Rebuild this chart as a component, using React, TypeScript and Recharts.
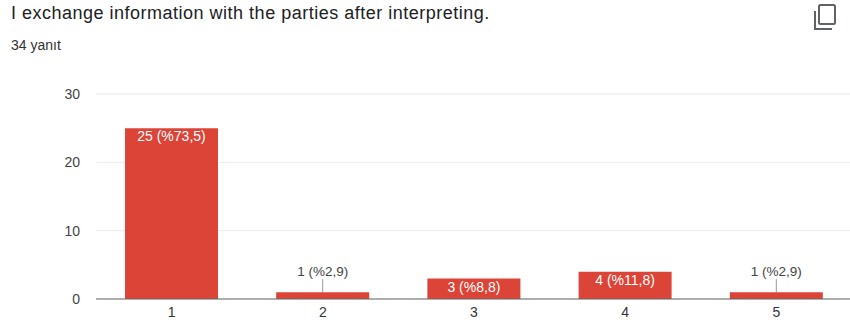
import { BarChart, Bar, XAxis, YAxis, CartesianGrid, LabelList } from 'recharts';

const categories = ['1', '2', '3', '4', '5'];
const counts = [25, 1, 3, 4, 1];
const percents = ['%73,5', '%2,9', '%8,8', '%11,8', '%2,9'];
const yTicks = [0, 10, 20, 30];

const data = categories.map((name, i) => ({ name, value: counts[i], pct: percents[i] }));

const FONT = '"Liberation Sans", Arial, Helvetica, sans-serif';

const renderLabel = (props: any) => {
  const { x, y, width, height, index } = props;
  const text = `${counts[index]} (${percents[index]})`;
  const cx = x + width / 2;
  if (height > 18) {
    return (
      <text x={cx} y={y + 13} textAnchor="middle" fill="#fff" fontSize={14} fontWeight={500} fontFamily={FONT}>
        {text}
      </text>
    );
  }
  return (
    <g>
      <line x1={cx} x2={cx} y1={y - 13} y2={y} stroke="#999" strokeWidth={1} />
      <text x={cx} y={y - 16} textAnchor="middle" fill="#444" fontSize={13.5} fontFamily={FONT}>
        {text}
      </text>
    </g>
  );
};

export default function App() {
  return (
    <div style={{ position: 'absolute', left: 0, top: 0, width: 850, height: 327, overflow: 'hidden', background: '#fff', fontFamily: FONT }}>
      <div style={{ position: 'absolute', left: 11, top: 3, fontSize: 18, letterSpacing: 0.5, color: '#202124', whiteSpace: 'nowrap' }}>
        I exchange information with the parties after interpreting.
      </div>
      <div style={{ position: 'absolute', left: 11, top: 37, fontSize: 14, color: '#333' }}>34 yanıt</div>
      <svg style={{ position: 'absolute', left: 810, top: 2 }} width={30} height={30}>
        <rect x={9} y={3} width={16} height={19} rx={1.5} fill="none" stroke="#5f6368" strokeWidth={2} />
        <path d="M5 9 V27 H22" fill="none" stroke="#5f6368" strokeWidth={2} />
      </svg>
      <div style={{ position: 'absolute', left: 0, top: 0 }}>
        <BarChart width={852} height={327} data={data} margin={{ top: 94, right: 0, bottom: 0, left: 0 }}>
          <CartesianGrid vertical={false} stroke="#ebebeb" />
          <XAxis
            dataKey="name"
            height={28}
            tickLine={false}
            axisLine={{ stroke: '#666' }}
            tick={{ fill: '#333', fontSize: 14, fontFamily: FONT }}
          />
          <YAxis
            width={96}
            domain={[0, 30]}
            ticks={yTicks}
            tickLine={false}
            axisLine={false}
            tickMargin={10}
            tick={{ fill: '#444', fontSize: 14, fontFamily: FONT }}
          />
          <Bar dataKey="value" fill="#db4437" barSize={93} isAnimationActive={false}>
            <LabelList dataKey="value" content={renderLabel} />
          </Bar>
        </BarChart>
      </div>
    </div>
  );
}
